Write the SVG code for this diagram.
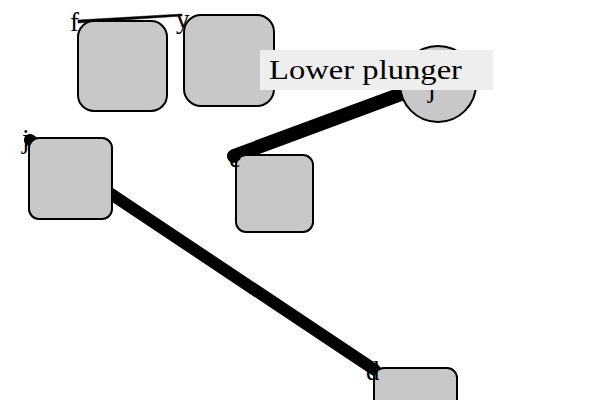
<svg xmlns="http://www.w3.org/2000/svg" width="600" height="400" viewBox="0 0 600 400">
<style>
.n{fill:#c8c8c8;stroke:#000;stroke-width:2}
.lbl{font-family:"Liberation Serif","DejaVu Serif",serif;font-size:27px;fill:#000}
.e{stroke:#000;stroke-linecap:round;fill:none}
</style>
<rect width="600" height="400" fill="#fff"/>
<g id="connectors">
<polygon points="78,20 182,14 182,16 78,23" fill="#000" stroke="#000" stroke-width="0.5"/>
<line class="e" x1="234" y1="156" x2="412" y2="90" stroke-width="14"/>
<line class="e" x1="30" y1="140" x2="375" y2="370" stroke-width="12"/>
</g>
<g id="node-f"><rect class="n" x="78" y="21" width="89" height="90" rx="16"/><text class="lbl" x="70" y="31">f</text></g>
<g id="node-y"><rect class="n" x="184" y="15" width="90" height="91" rx="17"/><text class="lbl" x="176" y="28">y</text></g>
<g id="node-j"><circle class="n" cx="438" cy="84" r="38"/><text class="lbl" x="428" y="97">j</text></g>
<g id="node-e"><rect class="n" x="236" y="155" width="77" height="77" rx="10"/><text class="lbl" x="229" y="167">e</text></g>
<g id="node-j2"><rect class="n" x="29" y="138" width="83" height="81" rx="10"/><text class="lbl" x="22" y="148">j</text></g>
<g id="node-d"><rect class="n" x="374" y="368" width="83" height="80" rx="10"/><text class="lbl" x="366" y="380">d</text></g>
<g id="label-lower-plunger"><rect x="260" y="50" width="233" height="40" fill="#eeeeee"/><text x="269" y="79" font-family="'Liberation Serif','DejaVu Serif',serif" font-size="27" textLength="193" lengthAdjust="spacingAndGlyphs">Lower plunger</text></g>
</svg>
